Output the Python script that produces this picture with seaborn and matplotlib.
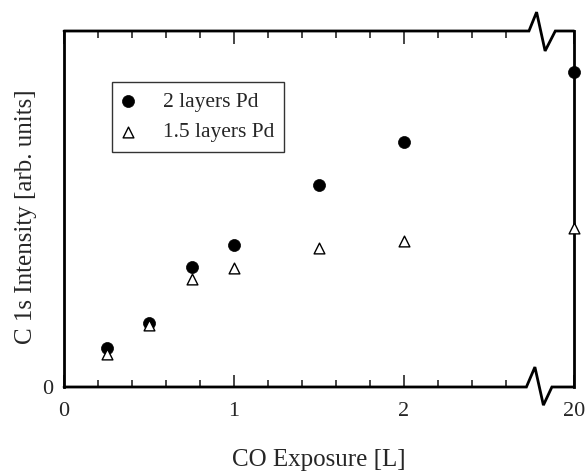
import numpy as np
import pandas as pd
import matplotlib
matplotlib.use("Agg")
import matplotlib.pyplot as plt
import matplotlib.transforms as mtransforms
import seaborn as sns

sns.set_style("white")
plt.rcParams['font.family'] = ['Liberation Serif', 'DejaVu Serif']

# CO exposure [L] and C 1s intensity (arb. units)
exposure = [0.25, 0.5, 0.75, 1.0, 1.5, 2.0, 20.0]
pd2_layers = [11.0, 18.0, 33.7, 39.9, 56.7, 68.9, 88.6]
pd15_layers = [9.3, 17.4, 30.3, 33.4, 39.0, 41.0, 44.7]
series_names = ["2 layers Pd", "1.5 layers Pd"]
xtick_labels = ["0", "1", "2", "20"]


def axis_pos(x):
    # broken axis: 0..2 linear, 20 drawn at position 3
    return x if x <= 2 else 3.0


df = pd.DataFrame({
    "pos": [axis_pos(v) for v in exposure] * 2,
    "val": pd2_layers + pd15_layers,
    "series": [series_names[0]] * len(exposure) + [series_names[1]] * len(exposure),
})

fig = plt.figure(figsize=(5.87, 4.71), dpi=100)
ax = fig.add_axes([64 / 587, 84 / 471, 510 / 587, 356 / 471])

d1 = df[df["series"] == series_names[0]]
d2 = df[df["series"] == series_names[1]]
sns.scatterplot(data=d1, x="pos", y="val", ax=ax, marker="o", s=75,
                color="black", edgecolor="black", linewidth=0.5,
                label=series_names[0], clip_on=False, zorder=5)
sns.scatterplot(data=d2, x="pos", y="val", ax=ax, marker="^", s=60,
                facecolor="white", edgecolor="black", linewidth=1.0,
                label=series_names[1], clip_on=False, zorder=6)

ax.set_xlim(0, 3)
ax.set_ylim(0, 100)

lw = 2.0
for side in ["top", "bottom"]:
    ax.spines[side].set_visible(False)
for side in ["left", "right"]:
    ax.spines[side].set_linewidth(lw)
    ax.spines[side].set_color("black")

trans = mtransforms.blended_transform_factory(ax.transData, ax.transAxes)
# top spine with zigzag break
ax.plot([0, 2.735, 2.78, 2.83, 2.89, 3.0], [1, 1, 1.053, 0.944, 1, 1],
        transform=trans, color="black", lw=lw, clip_on=False,
        solid_joinstyle="miter", zorder=10)
# bottom spine with zigzag break
ax.plot([0, 2.72, 2.77, 2.82, 2.87, 3.0], [0, 0, 0.056, -0.051, 0, 0],
        transform=trans, color="black", lw=lw, clip_on=False,
        solid_joinstyle="miter", zorder=10)

major = [0, 1, 2, 3]
minor = [0.2, 0.4, 0.6, 0.8, 1.2, 1.4, 1.6, 1.8, 2.2, 2.4, 2.6]
ax.set_xticks(major)
ax.set_xticklabels(xtick_labels)
ax.set_xticks(minor, minor=True)
ax.tick_params(axis="x", which="major", direction="in", top=True, bottom=True,
               length=9, width=1.2, labelsize=16, pad=11)
ax.tick_params(axis="x", which="minor", direction="in", top=True, bottom=True,
               length=5, width=1.2)
ax.set_yticks([0])
ax.set_yticklabels(["0"])
ax.tick_params(axis="y", length=0, labelsize=16, pad=8)

ax.set_xlabel("CO Exposure [L]", fontsize=18, labelpad=20)
ax.set_ylabel("C 1s Intensity [arb. units]", fontsize=18)
ax.yaxis.set_label_coords(-0.053, 0.478)

leg = ax.legend(loc="upper left", bbox_to_anchor=(0.094, 0.857), frameon=True,
                fancybox=False, edgecolor="black", fontsize=15.5,
                handlelength=0.55, handletextpad=1.37, borderpad=0.45,
                labelspacing=0.5, borderaxespad=0)
leg.get_frame().set_linewidth(1.0)

fig.savefig("out.png", dpi=100)
